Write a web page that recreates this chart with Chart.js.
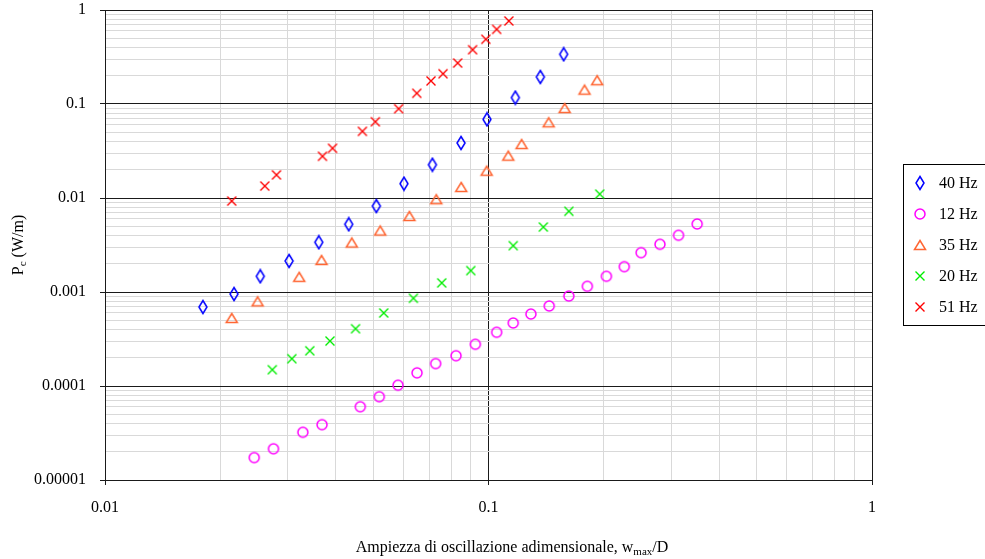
<!DOCTYPE html>
<html>
<head>
<meta charset="utf-8">
<script src="https://cdn.jsdelivr.net/npm/chart.js@4/dist/chart.umd.min.js"></script>
<style>
  body { margin: 0; background: #fff; }
  #chart { display: block; }
</style>
</head>
<body>
<canvas id="chart" width="985" height="559"></canvas>
<script>
// Values
const xLabels = ['0.01', '0.1', '1'];
const yLabels = ['0.00001', '0.0001', '0.001', '0.01', '0.1', '1'];
const seriesNames = ['40 Hz', '12 Hz', '35 Hz', '20 Hz', '51 Hz'];

const x40 = [0.0180, 0.0217, 0.0254, 0.0302, 0.0361, 0.0432, 0.0510, 0.0602, 0.0714, 0.0848, 0.0991, 0.1175, 0.1365, 0.157];
const y40 = [0.000692, 0.000952, 0.00147, 0.00214, 0.00338, 0.00525, 0.00822, 0.0142, 0.0226, 0.0385, 0.0687, 0.117, 0.194, 0.338];

const x12 = [0.0245, 0.0275, 0.0328, 0.0368, 0.0463, 0.0519, 0.0581, 0.0651, 0.0728, 0.0823, 0.0924, 0.105, 0.116, 0.129, 0.144, 0.162, 0.181, 0.203, 0.226, 0.250, 0.280, 0.313, 0.350];
const y12 = [0.0000173, 0.0000215, 0.0000322, 0.0000388, 0.0000602, 0.0000769, 0.000102, 0.000138, 0.000173, 0.000210, 0.000278, 0.000373, 0.000468, 0.000583, 0.000710, 0.000906, 0.00115, 0.00147, 0.00186, 0.00262, 0.00322, 0.00401, 0.00529];

const x35 = [0.0214, 0.0250, 0.0321, 0.0367, 0.0440, 0.0522, 0.0622, 0.0731, 0.0849, 0.0989, 0.1126, 0.122, 0.1435, 0.158, 0.178, 0.192];
const y35 = [0.000529, 0.000796, 0.00145, 0.00219, 0.00336, 0.00451, 0.00644, 0.00971, 0.0131, 0.0195, 0.0282, 0.0375, 0.0639, 0.0906, 0.142, 0.179];

const x20 = [0.0273, 0.0307, 0.0342, 0.0386, 0.0450, 0.0533, 0.0637, 0.0755, 0.0899, 0.116, 0.139, 0.162, 0.195];
const y20 = [0.000149, 0.000195, 0.000237, 0.000301, 0.000407, 0.000598, 0.000857, 0.00125, 0.00169, 0.00311, 0.00491, 0.00722, 0.0110];

const x51 = [0.0214, 0.0261, 0.0280, 0.0369, 0.0392, 0.0469, 0.0507, 0.0583, 0.0650, 0.0708, 0.0761, 0.0831, 0.0909, 0.0984, 0.105, 0.113];
const y51 = [0.00929, 0.0134, 0.0176, 0.0278, 0.0338, 0.0512, 0.0648, 0.0891, 0.130, 0.176, 0.210, 0.273, 0.378, 0.488, 0.623, 0.764];

const FONT = '"Liberation Serif", "Times New Roman", serif';

function pairs(xs, ys) {
    return xs.map((x, i) => ({ x: x, y: ys[i] }));
}

// Marker images, so the shapes match the Excel markers
function makeMarker(kind, color) {
    const c = document.createElement('canvas');
    c.width = 16; c.height = 16;
    const g = c.getContext('2d');
    g.strokeStyle = color;
    g.lineWidth = 1.5;
    g.beginPath();
    if (kind === 'diamond') {
        g.moveTo(8, 1.5); g.lineTo(12, 8); g.lineTo(8, 14.5); g.lineTo(4, 8); g.closePath();
    } else if (kind === 'circle') {
        g.arc(8, 8, 5, 0, Math.PI * 2);
    } else if (kind === 'triangle') {
        g.moveTo(8, 3.5); g.lineTo(13.5, 12.5); g.lineTo(2.5, 12.5); g.closePath();
    } else if (kind === 'x') {
        g.lineWidth = 1.4;
        g.moveTo(3.5, 3.5); g.lineTo(12.5, 12.5);
        g.moveTo(12.5, 3.5); g.lineTo(3.5, 12.5);
    }
    g.stroke();
    return c;
}

const markers = [
    makeMarker('diamond', '#0000ff'),
    makeMarker('circle', '#ff00ff'),
    makeMarker('triangle', '#ff6633'),
    makeMarker('x', '#00ee00'),
    makeMarker('x', '#ff0000')
];

const dataSets = [pairs(x40, y40), pairs(x12, y12), pairs(x35, y35), pairs(x20, y20), pairs(x51, y51)];

function isDecade(v) {
    const l = Math.log10(v);
    return Math.abs(l - Math.round(l)) < 1e-9;
}

function logTicks(min, max) {
    const out = [];
    for (let e = Math.round(Math.log10(min)); e <= Math.round(Math.log10(max)); e++) {
        for (let m = 1; m <= 9; m++) {
            const v = m * Math.pow(10, e);
            if (v > max * 1.0001) break;
            out.push({ value: v, major: m === 1 });
        }
    }
    return out;
}

function labelFor(list, v) {
    if (!isDecade(v)) return '';
    const found = list.find(s => Math.abs(Math.log10(parseFloat(s)) - Math.log10(v)) < 1e-6);
    return found || '';
}

const gridOpts = {
    color: (c) => (c.tick && isDecade(c.tick.value)) ? '#1a1a1a' : '#d9d9d9',
    tickColor: (c) => (c.tick && isDecade(c.tick.value)) ? '#1a1a1a' : 'rgba(0,0,0,0)',
    lineWidth: 1,
    tickLength: 5
};

// Axis titles with subscripts and the boxed legend
const extras = {
    id: 'extras',
    afterDraw(chart) {
        const ctx = chart.ctx;
        ctx.save();
        ctx.fillStyle = '#000';
        ctx.textBaseline = 'alphabetic';

        // x title
        const big = '16px ' + FONT, small = '11px ' + FONT;
        const parts = [['Ampiezza di oscillazione adimensionale, w', big, 0], ['max', small, 3], ['/D', big, 0]];
        let w = 0;
        parts.forEach(p => { ctx.font = p[1]; w += ctx.measureText(p[0]).width; });
        let x = 512 - w / 2;
        parts.forEach(p => {
            ctx.font = p[1];
            ctx.fillText(p[0], x, 552 + p[2]);
            x += ctx.measureText(p[0]).width;
        });

        // y title
        ctx.translate(23, 245);
        ctx.rotate(-Math.PI / 2);
        const yparts = [['P', big, 0], ['c', small, 3], [' (W/m)', big, 0]];
        w = 0;
        yparts.forEach(p => { ctx.font = p[1]; w += ctx.measureText(p[0]).width; });
        x = -w / 2;
        yparts.forEach(p => {
            ctx.font = p[1];
            ctx.fillText(p[0], x, 0 + p[2]);
            x += ctx.measureText(p[0]).width;
        });
        ctx.restore();

        // legend
        ctx.save();
        ctx.strokeStyle = '#000';
        ctx.lineWidth = 1;
        ctx.strokeRect(903.5, 164.5, 100, 161);
        ctx.font = '16px ' + FONT;
        ctx.fillStyle = '#000';
        ctx.textBaseline = 'middle';
        seriesNames.forEach((name, i) => {
            const yy = 183 + i * 31;
            ctx.drawImage(markers[i], 920 - 8, yy - 8);
            ctx.fillText(name, 939, yy + 1);
        });
        ctx.restore();
    }
};

new Chart(document.getElementById('chart'), {
    type: 'scatter',
    data: {
        datasets: dataSets.map((d, i) => ({
            label: seriesNames[i],
            data: d,
            pointStyle: markers[i],
            pointRadius: 6,
            pointHoverRadius: 6,
            showLine: false
        }))
    },
    options: {
        responsive: false,
        animation: false,
        devicePixelRatio: 1,
        layout: { padding: { left: 0, right: 113, top: 10, bottom: 0 } },
        plugins: { legend: { display: false }, tooltip: { enabled: false } },
        scales: {
            x: {
                type: 'logarithmic',
                min: 0.01,
                max: 1,
                afterBuildTicks: (s) => { s.ticks = logTicks(0.01, 1); },
                afterFit: (s) => { s.height = 79; s.paddingLeft = 0; s.paddingRight = 0; },
                grid: gridOpts,
                border: { color: '#1a1a1a', width: 1 },
                ticks: {
                    autoSkip: false,
                    maxRotation: 0,
                    padding: 13,
                    color: '#000',
                    font: { family: FONT, size: 16 },
                    callback: (v) => labelFor(xLabels, v)
                }
            },
            y: {
                type: 'logarithmic',
                min: 0.00001,
                max: 1,
                afterBuildTicks: (s) => { s.ticks = logTicks(0.00001, 1); },
                afterFit: (s) => { s.width = 105; s.paddingTop = 0; s.paddingBottom = 0; },
                grid: gridOpts,
                border: { color: '#1a1a1a', width: 1 },
                ticks: {
                    autoSkip: false,
                    padding: 14,
                    color: '#000',
                    font: { family: FONT, size: 16 },
                    callback: (v) => labelFor(yLabels, v)
                }
            }
        }
    },
    plugins: [extras]
});
</script>
</body>
</html>
